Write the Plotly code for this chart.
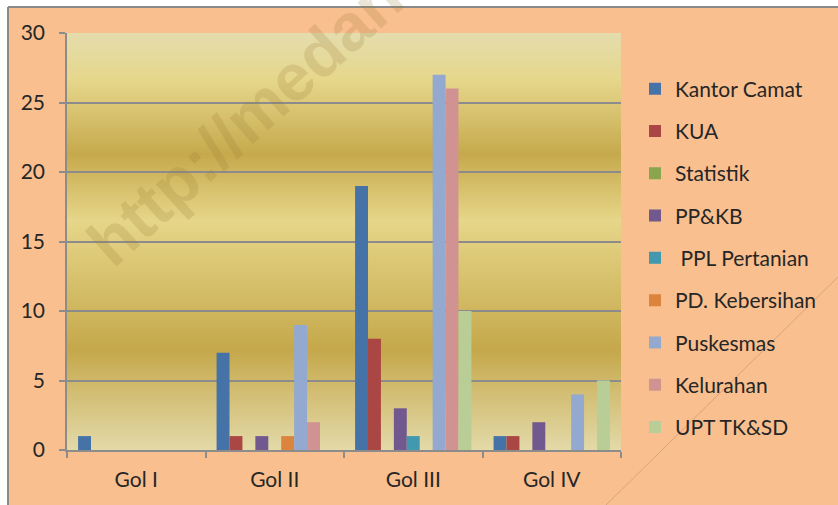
import base64
import struct
import zlib

import plotly.graph_objects as go

# ---- data ---------------------------------------------------------------
golongan = ["Gol I", "Gol II", "Gol III", "Gol IV"]
series_names = ["Kantor Camat", "KUA", "Statistik", "PP&KB", " PPL Pertanian",
                "PD. Kebersihan", "Puskesmas", "Kelurahan", "UPT TK&SD"]
kantor_camat = [1, 7, 19, 1]
kua = [0, 1, 8, 1]
statistik = [0, 0, 0, 0]
ppkb = [0, 1, 3, 2]
ppl_pertanian = [0, 0, 1, 0]
pd_kebersihan = [0, 1, 0, 0]
puskesmas = [0, 9, 27, 4]
kelurahan = [0, 2, 26, 0]
upt_tksd = [0, 0, 10, 5]
y_ticks = [0, 5, 10, 15, 20, 25, 30]

series_values = [kantor_camat, kua, statistik, ppkb, ppl_pertanian,
                 pd_kebersihan, puskesmas, kelurahan, upt_tksd]
colors = ["#4572A7", "#AA4643", "#89A54E", "#71588F", "#4198AF",
          "#DB843D", "#93A9CF", "#D19392", "#B9CD96"]

W, H = 838, 505
L, R, T, B = 67, 217, 33, 55
PEACH = "#F9BF8F"
FONT = "Lato"


# ---- gold gradient for the plot area (tiny PNG) --------------------------
def _hex(c):
    c = c.lstrip("#")
    return [int(c[i:i + 2], 16) for i in (0, 2, 4)]


grad_stops = [(0.0, "#E4DCAC"), (0.11, "#E6D78C"), (0.29, "#C6A94C"),
              (0.45, "#E6D689"), (0.76, "#C5A84B"), (1.0, "#E3DAA8")]


def gradient_png(stops, height=417, width=2):
    rows = []
    for i in range(height):
        t = i / (height - 1)
        for (p0, c0), (p1, c1) in zip(stops, stops[1:]):
            if p0 <= t <= p1:
                f = (t - p0) / (p1 - p0) if p1 > p0 else 0
                a, b = _hex(c0), _hex(c1)
                rgb = bytes(int(round(a[k] + (b[k] - a[k]) * f)) for k in range(3))
                break
        rows.append(b"\x00" + rgb * width)
    raw = b"".join(rows)

    def chunk(tag, data):
        return (struct.pack(">I", len(data)) + tag + data
                + struct.pack(">I", zlib.crc32(tag + data) & 0xFFFFFFFF))

    png = (b"\x89PNG\r\n\x1a\n"
           + chunk(b"IHDR", struct.pack(">IIBBBBB", width, height, 8, 2, 0, 0, 0))
           + chunk(b"IDAT", zlib.compress(raw, 9))
           + chunk(b"IEND", b""))
    return "data:image/png;base64," + base64.b64encode(png).decode()


# paper <-> pixel helpers (plot area is the paper 0..1 box)
pw, ph = W - L - R, H - T - B


def px(x):
    return (x - L) / pw


def py(y):
    return (H - B - y) / ph


# ---- figure ---------------------------------------------------------------
fig = go.Figure()
for i, (name, vals) in enumerate(zip(series_names, series_values)):
    fig.add_trace(go.Bar(
        x=golongan, y=vals, name=name, marker_color=colors[i],
        marker_line_width=0, legendgroup=f"g{i}",
    ))

fig.add_layout_image(dict(
    source=gradient_png(grad_stops), xref="paper", yref="paper",
    x=0, y=1, sizex=1, sizey=1, sizing="stretch", layer="below",
    xanchor="left", yanchor="top",
))

# outer frame: white strip top/left with grey rule, diagonal slide line
fig.add_shape(type="rect", xref="paper", yref="paper", layer="below",
              x0=px(-5), x1=px(W + 5), y0=py(7), y1=py(-5),
              fillcolor="white", line_width=0)
fig.add_shape(type="rect", xref="paper", yref="paper", layer="below",
              x0=px(-5), x1=px(7), y0=py(H + 5), y1=py(-5),
              fillcolor="white", line_width=0)
fig.add_shape(type="line", xref="paper", yref="paper", layer="below",
              x0=px(8), x1=px(W + 5), y0=py(7), y1=py(7),
              line=dict(color="#8a8a8a", width=2))
fig.add_shape(type="line", xref="paper", yref="paper", layer="below",
              x0=px(8), x1=px(8), y0=py(7), y1=py(H + 5),
              line=dict(color="#8a8a8a", width=2))
fig.add_shape(type="line", xref="paper", yref="paper", layer="below",
              x0=px(840), x1=px(604), y0=py(275), y1=py(507),
              line=dict(color="#D9A47A", width=1))

# watermark (runs off the top edge, as in the original)
fig.add_annotation(
    text="http://medan", xref="paper", yref="paper",
    x=px(245), y=py(120), xanchor="center", yanchor="middle",
    showarrow=False, textangle=-42,
    font=dict(family="Liberation Sans", size=66, color="rgba(150,120,50,0.2)",
              weight="bold"),
)

fig.update_layout(
    width=W, height=H,
    margin=dict(l=L, r=R, t=T, b=B, pad=0),
    paper_bgcolor=PEACH, plot_bgcolor="rgba(0,0,0,0)",
    barmode="group", bargap=0.16, bargroupgap=0,
    font=dict(family=FONT, size=21, color="#262626"),
    legend=dict(x=px(635), xanchor="left", y=py(258), yanchor="middle",
                bgcolor="rgba(0,0,0,0)", font=dict(size=21),
                tracegroupgap=12, traceorder="grouped"),
    showlegend=True,
)
fig.update_xaxes(
    showline=True, linecolor="#8c8c8c", linewidth=1.5,
    ticks="outside", tickson="boundaries", ticklen=6, tickcolor="#8c8c8c",
    tickwidth=1.5, showgrid=False, ticklabelstandoff=10,
)
fig.update_yaxes(
    range=[0, 30], tickvals=y_ticks, showline=True, linecolor="#8c8c8c",
    linewidth=1.5, ticks="outside", ticklen=6, tickcolor="#8c8c8c",
    tickwidth=1.5, showgrid=True, gridcolor="#8c8c8c", gridwidth=1.5,
    zeroline=False, ticklabelstandoff=10,
)

fig.write_html("out.html", config={"displayModeBar": False},
               post_script="document.body.style.margin='0';")
